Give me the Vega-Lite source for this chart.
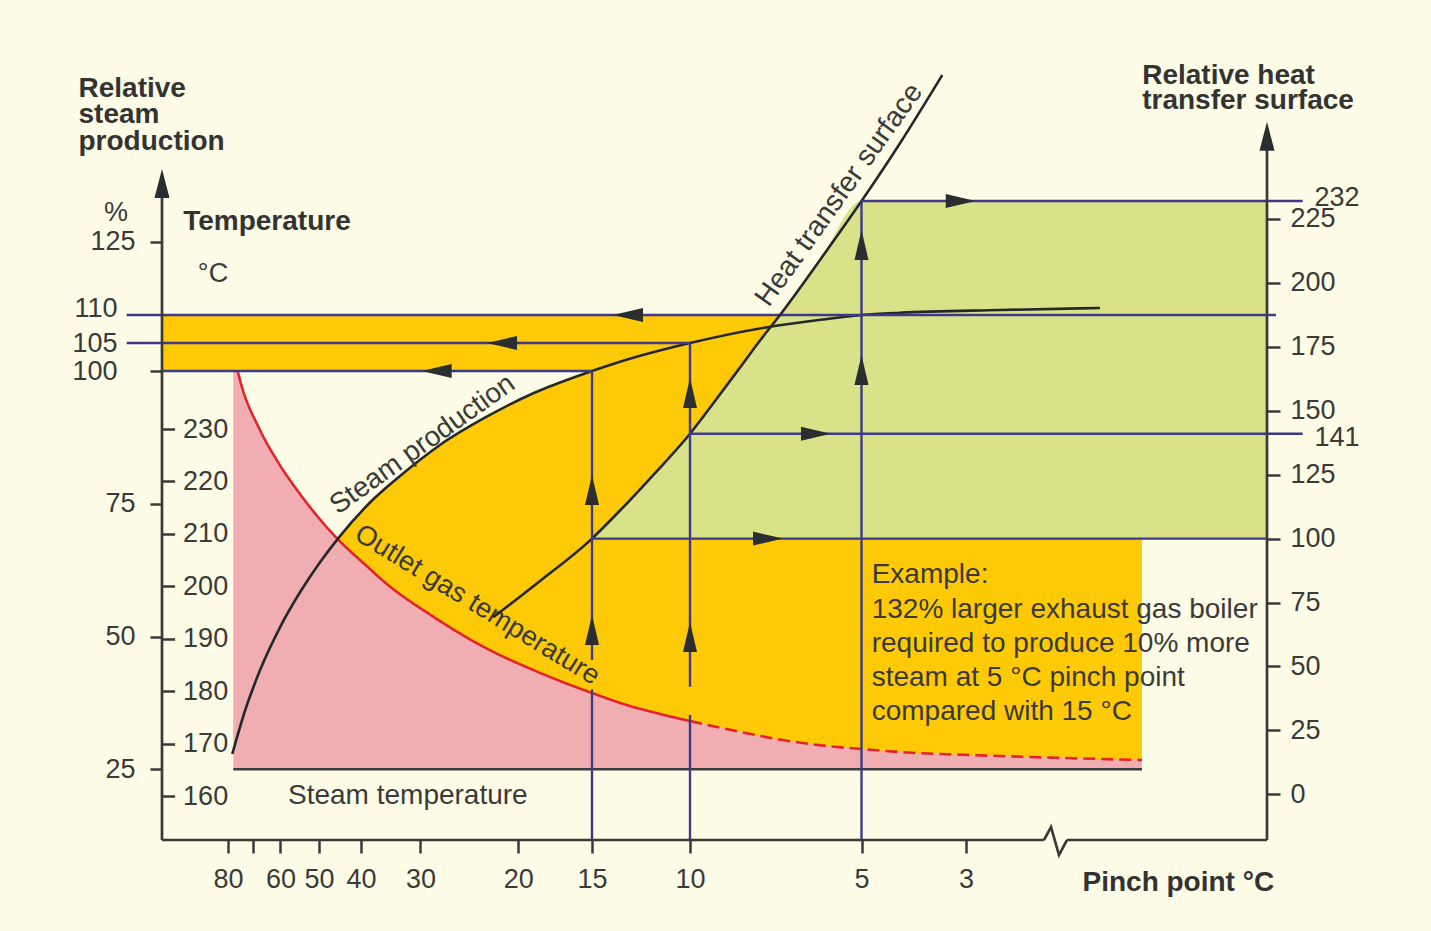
{
  "$schema": "https://vega.github.io/schema/vega-lite/v6.json",
  "width": 1105,
  "height": 780,
  "autosize": {"type": "none"},
  "padding": {"left": 162, "top": 60, "right": 164, "bottom": 91},
  "background": "#fefce6",
  "config": {
    "view": {"stroke": null},
    "font": "Liberation Sans",
    "axis": {
      "domain": false, "grid": false,
      "labelFont": "Liberation Sans", "labelFontSize": 27, "labelColor": "#3a3a3a",
      "tickColor": "#3a3a3a", "tickWidth": 2.5,
      "labelFlush": false, "labelOverlap": false,
      "titleFont": "Liberation Sans", "titleFontSize": 28, "titleFontWeight": "bold",
      "titleColor": "#333333", "titleAngle": 0, "titleAlign": "left", "titleBaseline": "alphabetic"
    },
    "text": {"font": "Liberation Sans", "fontSize": 27, "color": "#3a3a3a"}
  },
  "datasets": {
    "yellowS": [{"p":100,"p2":7.376,"v":100,"v2":110},{"p":15,"p2":7.376,"v":25,"v2":110}],
    "steamFill": [{"p":45.79,"v":68.10},{"p":45.0,"v":68.91},{"p":38.48,"v":75.24},{"p":33.43,"v":80.23},{"p":28.00,"v":86.07},{"p":23.22,"v":91.39},{"p":18.98,"v":95.80},{"p":15,"v":100}],
    "yellowR": [{"p":7.376,"p2":1.831,"v":9.78,"v2":100}],
    "green": [{"p":15,"v":100},{"p":13.57,"v":110.99},{"p":12.04,"v":123.50},{"p":10,"v":141},{"p":9.271,"v":153.81},{"p":8.542,"v":166.91},{"p":7.959,"v":177.47},{"p":7.376,"v":187.45},{"p":6.210,"v":208.96},{"p":5,"v":232},{"p":1,"v":232}],
    "red": [
      {"p":77.88,"v":241.06,"part":"edge"},
      {"p":76.12,"v":241.06,"part":"solid"},
      {"p":75.2,"v":239.34,"part":"solid"},
      {"p":67.45,"v":229.81,"part":"solid"},
      {"p":61.35,"v":224.09,"part":"solid"},
      {"p":54.92,"v":217.60,"part":"solid"},
      {"p":45.79,"v":209.21,"part":"solid"},
      {"p":39.04,"v":203.87,"part":"solid"},
      {"p":36.25,"v":201.01,"part":"solid"},
      {"p":28.68,"v":194.20,"part":"solid"},
      {"p":23.57,"v":188.48,"part":"solid"},
      {"p":18.98,"v":184.03,"part":"solid"},
      {"p":15,"v":179.65,"part":"solid"},
      {"p":13.23,"v":177.36,"part":"solid"},
      {"p":11.53,"v":175.64,"part":"solid"},
      {"p":10,"v":174.30,"part":"solid"},
      {"p":10,"v":174.30,"part":"dashed"},
      {"p":8.930,"v":172.78,"part":"dashed"},
      {"p":7.472,"v":170.87,"part":"dashed"},
      {"p":6.015,"v":169.54,"part":"dashed"},
      {"p":5,"v":168.96,"part":"dashed"},
      {"p":4.263,"v":168.39,"part":"dashed"},
      {"p":2.774,"v":167.63,"part":"dashed"},
      {"p":2.110,"v":167.06,"part":"dashed"},
      {"p":1.831,"v":166.87,"part":"dashed"}
    ],
    "baseline": [{"p":77.88,"p2":1.831,"v":165.09,"v2":165.09}],
    "steam": [{"p":78.28,"v":27.88},{"p":73.2,"v":36.02},{"p":67.45,"v":43.64},{"p":60.15,"v":51.74},{"p":54.92,"v":58.33},{"p":49.76,"v":63.98},{"p":45.0,"v":68.91},{"p":38.48,"v":75.24},{"p":33.43,"v":80.23},{"p":28.00,"v":86.07},{"p":23.22,"v":91.39},{"p":18.98,"v":95.80},{"p":15,"v":100},{"p":13.57,"v":101.66},{"p":10,"v":105},{"p":7.668,"v":107.91},{"p":6.356,"v":109.02},{"p":5,"v":110},{"p":4.263,"v":110.47},{"p":2.774,"v":111.02},{"p":2.110,"v":111.43}],
    "linesS": [{"p":110.70,"p2":0.940,"v":110,"v2":110},{"p":110.70,"p2":10,"v":105,"v2":105},{"p":100,"p2":15,"v":100,"v2":100}],
    "arrowsLeft": [{"p":13.163,"v":110},{"p":21.656,"v":105},{"p":28.333,"v":100}],
    "heat": [{"p":22.55,"v":69.22},{"p":18.52,"v":83.42},{"p":15,"v":100},{"p":13.57,"v":110.99},{"p":12.04,"v":123.50},{"p":10,"v":141},{"p":9.271,"v":153.81},{"p":8.542,"v":166.91},{"p":7.959,"v":177.47},{"p":7.376,"v":187.45},{"p":6.210,"v":208.96},{"p":5,"v":232},{"p":4.263,"v":254.63},{"p":3.454,"v":281.31}],
    "linesR": [
      {"p":15,"p2":1,"v":100,"v2":100},
      {"p":10,"p2":0.763,"v":141,"v2":141},
      {"p":5,"p2":0.763,"v":232,"v2":232},
      {"p":15,"p2":15,"v":-17.87,"v2":41.06},
      {"p":15,"p2":15,"v":52.52,"v2":165.55},
      {"p":10,"p2":10,"v":-17.87,"v2":31.01},
      {"p":10,"p2":10,"v":42.08,"v2":176.38},
      {"p":5,"p2":5,"v":-17.87,"v2":232}
    ],
    "axisLines": [
      {"p":100,"p2":100,"v":-17.87,"v2":236.33},
      {"p":1,"p2":1,"v":-17.87,"v2":253.93},
      {"p":100,"p2":2.482,"v":-17.87,"v2":-17.87},
      {"p":2.329,"p2":1,"v":-17.87,"v2":-17.87}
    ],
    "zigzag": [{"p":2.482,"v":-17.87},{"p":2.435,"v":-12.79},{"p":2.382,"v":-23.74},{"p":2.329,"v":-17.87}],
    "arrowsUp": [{"p":15,"v":119.01},{"p":15,"v":64.26},{"p":10,"v":156.94},{"p":10,"v":61.52},{"p":5,"v":165.94},{"p":5,"v":214.82}],
    "arrowsRight": [{"p":7.726,"v":100},{"p":6.327,"v":141},{"p":3.101,"v":232}],
    "axisArrows": [{"p":100,"v":238.87},{"p":1,"v":257.37}],
    "textOutlet": [{"p":24.62,"v":195.09,"txt":"Outlet gas temperature"}],
    "textSteamT": [{"p":58.03,"v":160,"txt":"Steam temperature"}],
    "textDegC": [{"p":84.55,"v":258.09,"txt":"°C"}],
    "textSteamP": [{"p":29.3,"v":84.9,"txt":"Steam production"}],
    "textPct": [{"p":113.94,"v":129.3,"txt":"%"}],
    "textHeat": [{"p":5.45,"v":232.5,"txt":"Heat transfer surface"}],
    "textExample": [{"p":4.805,"v":82.52,"txt":["Example:","132% larger exhaust gas boiler","required to produce 10% more","steam at 5 °C pinch point","compared with 15 °C"]}]
  },
  "encoding": {
    "x": {
      "field": "p", "type": "quantitative",
      "scale": {"domain": [100,80,70,60,50,40,30,20,15,10,5,3,1], "range": [0,66,91,118.4,157,199,258.4,356.2,430,528,699.5,804,1105], "nice": false, "zero": false},
      "axis": {
        "values": [80,70,60,50,40,30,20,15,10,5,3],
        "labelExpr": "datum.value == 70 ? '' : datum.label",
        "tickSize": 13, "labelPadding": 13,
        "title": "Pinch point °C", "titleX": 920, "titleY": 50
      }
    }
  },
  "resolve": {"scale": {"y": "independent"}},
  "layer": [
    {
      "encoding": {"y": {"field": "v", "type": "quantitative",
        "scale": {"domain": [25,100,110,125], "range": [709.3,311,255,181.7], "nice": false, "zero": false},
        "axis": {"orient": "left", "values": [25,50,75,100,125], "labelExpr": "datum.value == 100 ? '' : datum.label",
          "tickSize": 12, "labelPadding": 15,
          "title": ["Relative","steam","production"], "titleX": -84, "titleY": 36, "titleLineHeight": 26.7}}},
      "layer": [
        {"data": {"name": "yellowS"}, "mark": {"type": "rect", "color": "#fec907"}, "encoding": {"x2": {"field": "p2"}, "y2": {"field": "v2"}}},
        {"data": {"name": "steamFill"}, "mark": {"type": "area", "color": "#fec907", "interpolate": "monotone"}, "encoding": {"y2": {"datum": 25}}}
      ]
    },
    {
      "encoding": {"y": {"field": "v", "type": "quantitative",
        "scale": {"domain": [-17.87, 287.17], "nice": false, "zero": false},
        "axis": {"orient": "right", "values": [0,25,50,75,100,125,150,175,200,225],
          "tickSize": 13, "labelPadding": 10,
          "title": ["Relative heat","transfer surface"], "titleX": -125.3, "titleY": 23.3, "titleLineHeight": 25.7}}},
      "layer": [
        {"data": {"name": "yellowR"}, "mark": {"type": "rect", "color": "#fec907"}, "encoding": {"x2": {"field": "p2"}, "y2": {"field": "v2"}}},
        {"data": {"name": "green"}, "mark": {"type": "area", "color": "#d9e288", "interpolate": "monotone"}, "encoding": {"y2": {"datum": 100}}}
      ]
    },
    {
      "encoding": {"y": {"field": "v", "type": "quantitative",
        "scale": {"domain": [151.61, 300.38], "nice": false, "zero": false},
        "axis": {"orient": "right", "offset": -1105, "values": [160,170,180,190,200,210,220,230],
          "tickSize": 12.6, "labelPadding": 8,
          "title": "Temperature", "titleX": 20.7, "titleY": 169}}},
      "layer": [
        {"data": {"name": "red"}, "transform": [{"filter": "!(datum.part == 'dashed' && datum.p == 10)"}],
         "mark": {"type": "area", "color": "#f0aeb3", "interpolate": "monotone"}, "encoding": {"y2": {"datum": 165.09}}}
      ]
    },
    {
      "encoding": {"y": {"field": "v", "type": "quantitative",
        "scale": {"domain": [151.61, 300.38], "nice": false, "zero": false}, "axis": null}},
      "layer": [
        {"data": {"name": "baseline"}, "mark": {"type": "rule", "color": "#3a3a3a", "strokeWidth": 2.5}, "encoding": {"x2": {"field": "p2"}, "y2": {"field": "v2"}}},
        {"data": {"name": "red"}, "transform": [{"filter": "datum.part != 'edge'"}],
         "mark": {"type": "line", "color": "#e42229", "strokeWidth": 2.6, "interpolate": "monotone"},
         "encoding": {"strokeDash": {"field": "part", "type": "nominal", "scale": {"domain": ["solid","dashed"], "range": [[1,0],[12,6]]}, "legend": null}}},
        {"data": {"name": "textOutlet"}, "mark": {"type": "text", "angle": 31.5, "align": "center", "baseline": "alphabetic", "fontSize": 27.5}, "encoding": {"text": {"field": "txt", "type": "nominal"}}},
        {"data": {"name": "textSteamT"}, "mark": {"type": "text", "align": "left", "baseline": "middle", "fontSize": 28}, "encoding": {"text": {"field": "txt", "type": "nominal"}}},
        {"data": {"name": "textDegC"}, "mark": {"type": "text", "align": "center", "baseline": "alphabetic"}, "encoding": {"text": {"field": "txt", "type": "nominal"}}}
      ]
    },
    {
      "encoding": {"y": {"field": "v", "type": "quantitative",
        "scale": {"domain": [25,100,110,125], "range": [709.3,311,255,181.7], "nice": false, "zero": false},
        "axis": {"orient": "left", "values": [100,105,110], "tickSize": 0, "labelPadding": 45,
          "labelOffset": {"condition": {"test": "datum.value == 110", "value": -7}, "value": 0}, "title": null}}},
      "layer": [
        {"data": {"name": "steam"}, "mark": {"type": "line", "color": "#25282b", "strokeWidth": 2.6, "interpolate": "monotone"}},
        {"data": {"name": "linesS"}, "mark": {"type": "rule", "color": "#3d3a8a", "strokeWidth": 2.4}, "encoding": {"x2": {"field": "p2"}, "y2": {"field": "v2"}}},
        {"data": {"name": "arrowsLeft"}, "mark": {"type": "point", "filled": true, "opacity": 1, "color": "#2b2e31", "size": 900, "shape": "M-1,0L1,-0.467L1,0.467Z"}},
        {"data": {"name": "textSteamP"}, "mark": {"type": "text", "angle": -35.5, "align": "center", "baseline": "alphabetic", "fontSize": 28}, "encoding": {"text": {"field": "txt", "type": "nominal"}}},
        {"data": {"name": "textPct"}, "mark": {"type": "text", "align": "center", "baseline": "alphabetic"}, "encoding": {"text": {"field": "txt", "type": "nominal"}}}
      ]
    },
    {
      "encoding": {"y": {"field": "v", "type": "quantitative",
        "scale": {"domain": [-17.87, 287.17], "nice": false, "zero": false},
        "axis": {"orient": "right", "values": [141,232], "tickSize": 0, "labelPadding": 47,
          "labelOffset": {"condition": {"test": "datum.value == 232", "value": -4}, "value": 4}, "title": null}}},
      "layer": [
        {"data": {"name": "heat"}, "mark": {"type": "line", "color": "#25282b", "strokeWidth": 2.6, "interpolate": "monotone"}},
        {"data": {"name": "linesR"}, "mark": {"type": "rule", "color": "#3d3a8a", "strokeWidth": 2.4}, "encoding": {"x2": {"field": "p2"}, "y2": {"field": "v2"}}},
        {"data": {"name": "axisLines"}, "mark": {"type": "rule", "color": "#3a3a3a", "strokeWidth": 2.7}, "encoding": {"x2": {"field": "p2"}, "y2": {"field": "v2"}}},
        {"data": {"name": "zigzag"}, "mark": {"type": "line", "color": "#3a3a3a", "strokeWidth": 2.7}},
        {"data": {"name": "arrowsUp"}, "mark": {"type": "point", "filled": true, "opacity": 1, "color": "#2b2e31", "size": 900, "shape": "M0,-1L0.467,1L-0.467,1Z"}},
        {"data": {"name": "arrowsRight"}, "mark": {"type": "point", "filled": true, "opacity": 1, "color": "#2b2e31", "size": 900, "shape": "M1,0L-1,-0.467L-1,0.467Z"}},
        {"data": {"name": "axisArrows"}, "mark": {"type": "point", "filled": true, "opacity": 1, "color": "#2b2e31", "size": 841, "shape": "M0,-1L0.52,1L-0.52,1Z"}},
        {"data": {"name": "textHeat"}, "mark": {"type": "text", "angle": -54.5, "align": "center", "baseline": "alphabetic", "fontSize": 28.5}, "encoding": {"text": {"field": "txt", "type": "nominal"}}},
        {"data": {"name": "textExample"}, "mark": {"type": "text", "align": "left", "baseline": "alphabetic", "fontSize": 28, "lineHeight": 34.3}, "encoding": {"text": {"field": "txt", "type": "nominal"}}}
      ]
    }
  ]
}
